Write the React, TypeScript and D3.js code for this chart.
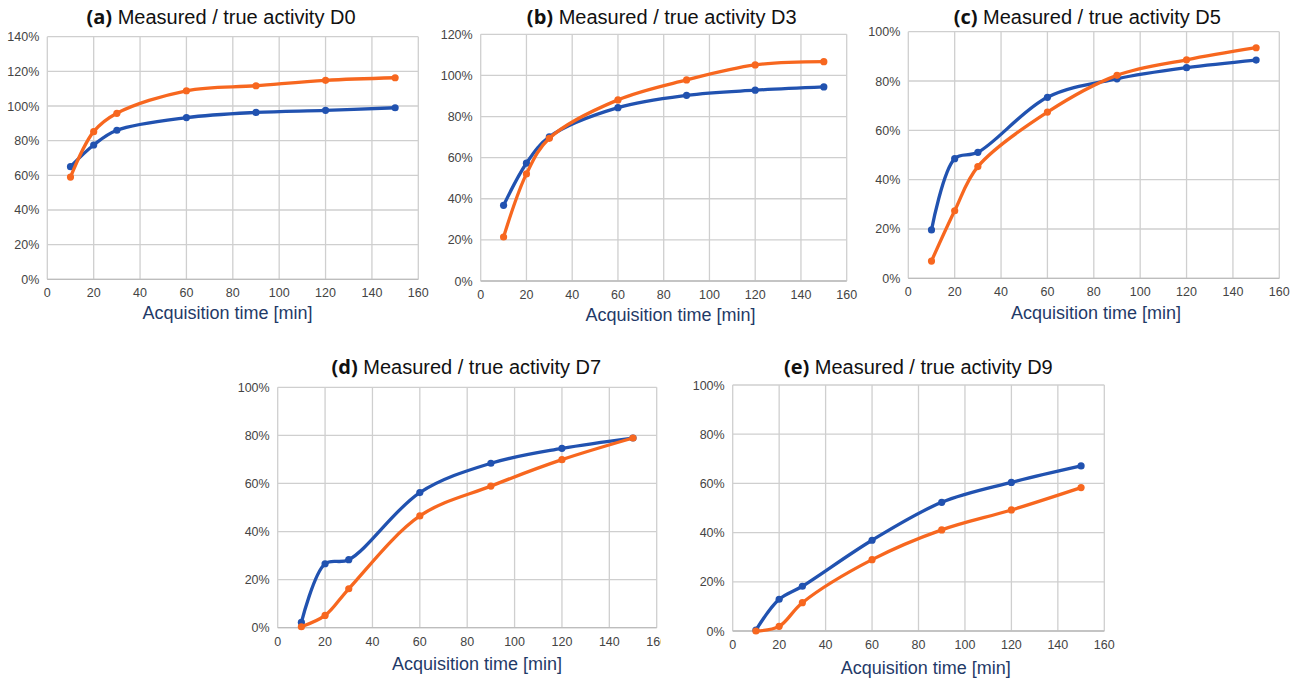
import React from "react";
import * as d3 from "d3";

const times = [10, 20, 30, 60, 90, 120, 150];
const xTicks = [0, 20, 40, 60, 80, 100, 120, 140, 160];

const d0Blue = [65, 77.5, 86, 93.3, 96.3, 97.5, 99];
const d0Orange = [59, 85.2, 95.8, 108.8, 111.7, 114.8, 116.3];
const d3Blue = [36.8, 57.3, 70.1, 84.3, 90.3, 92.8, 94.4];
const d3Orange = [21.4, 52.1, 69.4, 88.1, 97.8, 105.1, 106.7];
const d5Blue = [19.6, 48.5, 51.1, 73.4, 80.9, 85.4, 88.5];
const d5Orange = [7.0, 27.4, 45.3, 67.4, 82.3, 88.6, 93.5];
const d7Blue = [2.2, 26.6, 28.3, 56.2, 68.4, 74.6, 78.9];
const d7Orange = [0.4, 5.1, 16.2, 46.5, 58.9, 69.9, 78.9];
const d9Blue = [0.4, 12.9, 18.2, 36.9, 52.3, 60.4, 67.1];
const d9Orange = [0, 1.9, 11.5, 29.0, 41.1, 49.2, 58.3];

const panelLabels = ["(a)", "(b)", "(c)", "(d)", "(e)"];
const panelTitles = [
  "Measured / true activity D0",
  "Measured / true activity D3",
  "Measured / true activity D5",
  "Measured / true activity D7",
  "Measured / true activity D9",
];
const yMaxes = [140, 120, 100, 100, 100];
const xAxisTitle = "Acquisition time [min]";

const BLUE = "#2152b0";
const ORANGE = "#f7671f";

type Layout = {
  l: number; r: number; t: number; b: number;
  tx: number; ty: number; ax: number; ay: number; clipRight?: number;
};
const layouts: Layout[] = [
  { l: 47.3, r: 418.3, t: 36.7, b: 279.3, tx: 221, ty: 23.5, ax: 227.5, ay: 318.5 },
  { l: 480.7, r: 846.7, t: 34.3, b: 281, tx: 661.7, ty: 23.5, ax: 670.5, ay: 320.5 },
  { l: 908.3, r: 1279.3, t: 31.7, b: 278.3, tx: 1087.3, ty: 23.5, ax: 1096, ay: 318.5 },
  { l: 277.7, r: 656.7, t: 387.3, b: 627.7, tx: 466.3, ty: 373.5, ax: 477, ay: 669.5, clipRight: 661 },
  { l: 732.7, r: 1104.3, t: 385, b: 631, tx: 918.3, ty: 373.5, ax: 925.8, ay: 673.5 },
];

const seriesList = [
  [d0Blue, d0Orange],
  [d3Blue, d3Orange],
  [d5Blue, d5Orange],
  [d7Blue, d7Orange],
  [d9Blue, d9Orange],
];

const FONT = "Liberation Sans, Arial, sans-serif";

function Panel({ idx }: { idx: number }) {
  const L = layouts[idx];
  const yMax = yMaxes[idx];
  const x = d3.scaleLinear().domain([0, 160]).range([L.l, L.r]);
  const y = d3.scaleLinear().domain([0, yMax]).range([L.b, L.t]);
  const yTicks = d3.range(0, yMax + 1, 20);
  const line = d3
    .line<number>()
    .x((_, i) => x(times[i]))
    .y((v) => y(v))
    .curve(d3.curveCatmullRom.alpha(0.5));
  const [blue, orange] = seriesList[idx];
  const clipId = `clip-${idx}`;
  return (
    <g clipPath={L.clipRight ? `url(#${clipId})` : undefined}>
      {L.clipRight && (
        <defs>
          <clipPath id={clipId}>
            <rect x={0} y={0} width={L.clipRight} height={678} />
          </clipPath>
        </defs>
      )}
      <text x={L.tx} y={L.ty} textAnchor="middle" fontSize={20} fontFamily={FONT} fill="#111">
        <tspan fontWeight="bold" fontFamily="Open Sans, sans-serif">{panelLabels[idx]}</tspan>
        <tspan> {panelTitles[idx]}</tspan>
      </text>
      {yTicks.map((t) => (
        <line key={"h" + t} x1={L.l} x2={L.r} y1={y(t)} y2={y(t)} stroke="#cfcfcf" strokeWidth={1.3} />
      ))}
      {xTicks.map((t) => (
        <line key={"v" + t} x1={x(t)} x2={x(t)} y1={L.t} y2={L.b} stroke="#cfcfcf" strokeWidth={1.3} />
      ))}
      <line x1={L.l} x2={L.r} y1={L.b} y2={L.b} stroke="#bdbdbd" strokeWidth={1.3} />
      {yTicks.map((t) => (
        <text key={"yl" + t} x={L.l - 8} y={y(t) + 4.5} textAnchor="end" fontSize={12.5} fontFamily={FONT} fill="#444">
          {t}%
        </text>
      ))}
      {xTicks.map((t) => (
        <text key={"xl" + t} x={x(t)} y={L.b + 18} textAnchor="middle" fontSize={12.5} fontFamily={FONT} fill="#444">
          {t}
        </text>
      ))}
      <text x={L.ax} y={L.ay} textAnchor="middle" fontSize={18} fontFamily={FONT} fill="#1f3a68">
        {xAxisTitle}
      </text>
      {[blue, orange].map((s, si) => (
        <g key={si}>
          <path d={line(s) || ""} fill="none" stroke={si === 0 ? BLUE : ORANGE} strokeWidth={3.3} strokeLinejoin="round" />
          {s.map((v, i) => (
            <circle key={i} cx={x(times[i])} cy={y(v)} r={3.6} fill={si === 0 ? BLUE : ORANGE} />
          ))}
        </g>
      ))}
    </g>
  );
}

export default function App() {
  return (
    <svg width={1300} height={678} style={{ position: "absolute", left: 0, top: 0, background: "#fff" }}>
      <rect width={1300} height={678} fill="#fff" />
      {layouts.map((_, i) => (
        <Panel key={i} idx={i} />
      ))}
    </svg>
  );
}
